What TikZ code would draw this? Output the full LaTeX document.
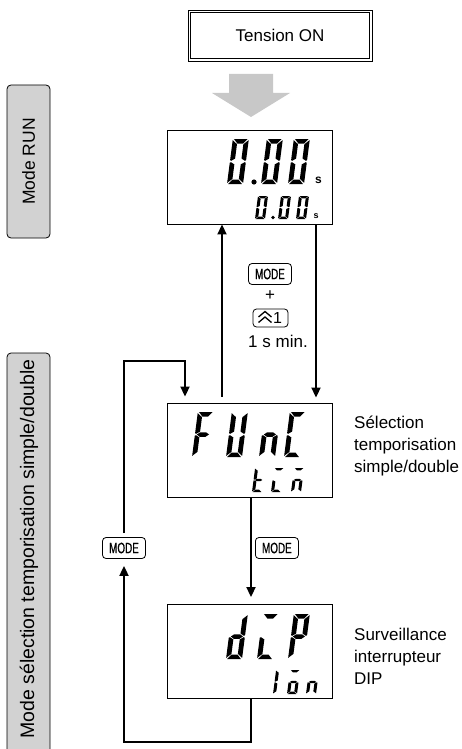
\documentclass[tikz,border=0pt]{standalone}
\usepackage{fontspec}
\setmainfont{Liberation Sans}
\newfontfamily\condfont[FakeStretch=0.66,FakeBold=0.6]{Liberation Sans}
\usetikzlibrary{arrows.meta}
\definecolor{sidegray}{RGB}{210,210,210}
\definecolor{arrgray}{RGB}{200,200,200}
% seven-segment shapes, local cell x 0..1, y 0..2
\def\lcdsega{(0.07,2)--(0.93,2)--(0.68,1.8)--(0.32,1.8)--cycle}
\def\lcdsegd{(0.07,0)--(0.93,0)--(0.68,0.2)--(0.32,0.2)--cycle}
\def\lcdsegg{(0.12,1)--(0.32,1.1)--(0.68,1.1)--(0.88,1)--(0.68,0.9)--(0.32,0.9)--cycle}
\def\lcdsegf{(0,1.95)--(0.3,1.77)--(0.3,1.13)--(0.07,1.03)--(0,1.06)--cycle}
\def\lcdsegb{(1,1.95)--(0.7,1.77)--(0.7,1.13)--(0.93,1.03)--(1,1.06)--cycle}
\def\lcdsege{(0,0.05)--(0.3,0.23)--(0.3,0.87)--(0.07,0.97)--(0,0.94)--cycle}
\def\lcdsegc{(1,0.05)--(0.7,0.23)--(0.7,0.87)--(0.93,0.97)--(1,0.94)--cycle}
\newcommand{\lcdfill}[1]{\fill #1;}
\newcommand{\lcdchar}[5]{\begin{scope}[shift={(#1,#2)},xslant=0.13,x=#3,y=#4]\foreach \sg in {#5}{\expandafter\lcdfill\csname lcdseg\sg\endcsname}\end{scope}}

\tikzset{
  lcd/.style={draw, line width=0.9pt, minimum width=165pt, minimum height=94pt, inner sep=0pt},
  arr/.style={line width=1.9pt, -{Triangle[length=10pt,width=9pt]}},
  keybox/.style={draw, rounded corners=3.5pt, line width=0.8pt, inner sep=0pt, minimum width=43pt, minimum height=21pt, font=\condfont\fontsize{15}{15}\selectfont},
  sidelabel/.style={draw, line width=0.8pt, fill=sidegray, rounded corners=4pt, inner sep=0pt},
  txt/.style={font=\fontsize{17}{22}\selectfont, inner sep=0pt},
  unitlbl/.style={font=\bfseries\fontsize{12}{12}\selectfont, inner sep=0pt},
}

\begin{document}
\begin{tikzpicture}[x=1pt,y=1pt]
\useasboundingbox (0,0) rectangle (462,-749);
\clip (0,0) rectangle (462,-749);

% side labels
\node[sidelabel, rotate=90, minimum width=153pt, minimum height=43pt] (runlbl) at (28.5,-161.5) {};
\node[txt, rotate=90, font=\fontsize{17.5}{20}\selectfont] (runtxt) at (runlbl.center) {Mode RUN};
\node[sidelabel, rotate=90, minimum width=420pt, minimum height=43pt] (sellbl) at (28.5,-563) {};
\node[txt, rotate=90, anchor=east, font=\fontsize{19.5}{22}\selectfont] (seltxt) at (29,-359) {Mode sélection temporisation simple/double};

% power on
\node[draw, line width=0.8pt, minimum width=184pt, minimum height=51pt, txt] (ton) at (280,-35.5) {Tension ON};
\draw[line width=1.2pt] ([shift={(3,3)}]ton.south west) rectangle ([shift={(-3,-3)}]ton.north east);
\fill[arrgray] (229,-74) -- (273,-74) -- (273,-93) -- (290,-93) -- (251,-117) -- (212,-93) -- (229,-93) -- cycle;

% displays
\node[lcd] (disp1) at (249.5,-177) {};
\node[lcd] (disp2) at (249.5,-450) {};
\node[lcd] (disp3) at (249.5,-651.5) {};

% display 1 : 0.00 s / 0.00 s
\lcdchar{227}{-184}{16pt}{22.5pt}{a,b,c,d,e,f}
\fill (254,-182) circle (2.6pt);
\lcdchar{261}{-184}{16pt}{22.5pt}{a,b,c,d,e,f}
\lcdchar{288}{-184}{16pt}{22.5pt}{a,b,c,d,e,f}
\node[unitlbl] (s1) at (318.5,-180) {s};
\lcdchar{255}{-219}{10pt}{11.5pt}{a,b,c,d,e,f}
\fill (273,-217.5) circle (1.8pt);
\lcdchar{278}{-219}{10pt}{11.5pt}{a,b,c,d,e,f}
\lcdchar{296}{-219}{10pt}{11.5pt}{a,b,c,d,e,f}
\node[unitlbl, font=\bfseries\fontsize{9}{9}\selectfont] (s2) at (316,-216) {s};

% display 2 : FUnC / tim
\lcdchar{192}{-457}{16pt}{22.5pt}{a,e,f,g}
\lcdchar{226}{-457}{16pt}{22.5pt}{b,c,d,e,f}
\lcdchar{259}{-457}{16pt}{22.5pt}{c,e,g}
\lcdchar{284}{-457}{16pt}{22.5pt}{a,d,e,f}
\lcdchar{252}{-492}{10pt}{12pt}{d,e,f,g}
\lcdchar{271}{-492}{10pt}{12pt}{a,d,e}
\lcdchar{291}{-492}{10pt}{12pt}{a,c,e,g}

% display 3 : dIP / Ion
\lcdchar{226}{-659}{16pt}{22.5pt}{b,c,d,e,g}
\lcdchar{257}{-659}{16pt}{22.5pt}{a,d,e}
\lcdchar{288}{-659}{16pt}{22.5pt}{a,b,e,f,g}
\lcdchar{273}{-694}{10pt}{12pt}{e,f}
\lcdchar{287}{-694}{10pt}{12pt}{a,c,d,e,g}
\lcdchar{306}{-694}{10pt}{12pt}{c,e,g}

% side descriptions
\node[txt, anchor=west, align=left] (d2) at (354,-446) {Sélection\\temporisation\\simple/double};
\node[txt, anchor=west, align=left] (d3) at (354,-656) {Surveillance\\interrupteur\\DIP};

% key labels between display 1 and 2
\node[keybox] (k1) at (270,-274) {MODE};
\node[txt] (plus) at (270,-296) {+};
\node[keybox, minimum width=35pt, minimum height=18pt, font=\fontsize{16}{16}\selectfont] (k2) at (270.5,-318) {\hspace*{14pt}1};
\draw[line width=1.3pt] ([shift={(-12,1)}]k2.center) -- ([shift={(-5.5,6.5)}]k2.center) -- ([shift={(1,1)}]k2.center);
\draw[line width=1.3pt] ([shift={(-12,-4.5)}]k2.center) -- ([shift={(-5.5,1)}]k2.center) -- ([shift={(1,-4.5)}]k2.center);
\node[txt] (k2t) at (278,-341) {1 s min.};

% connectors
\coordinate (upx) at (222,0);
\coordinate (dnx) at (316,0);
\coordinate (midx) at (251,0);
\coordinate (bot) at (124,-742);
\coordinate (ltop) at (185,-361);
\draw[arr] ([yshift=6pt]disp2.north -| upx) -- (disp1.south -| upx);
\draw[arr, shorten >=5pt] (disp1.south -| dnx) -- (disp2.north -| dnx);
\draw[arr, shorten >=7pt] (disp2.south -| midx) -- (disp3.north -| midx);
\node[keybox, anchor=west] (k3) at (255,-548) {MODE};
\node[keybox] (k4) at (124,-548) {MODE};
\draw[arr, shorten >=7pt] (disp3.south -| midx) |- (bot) -- (k4.south);
\draw[arr, shorten >=6pt] ([yshift=4pt]k4.north) |- (ltop) -- (disp2.north -| ltop);
\end{tikzpicture}
\end{document}
